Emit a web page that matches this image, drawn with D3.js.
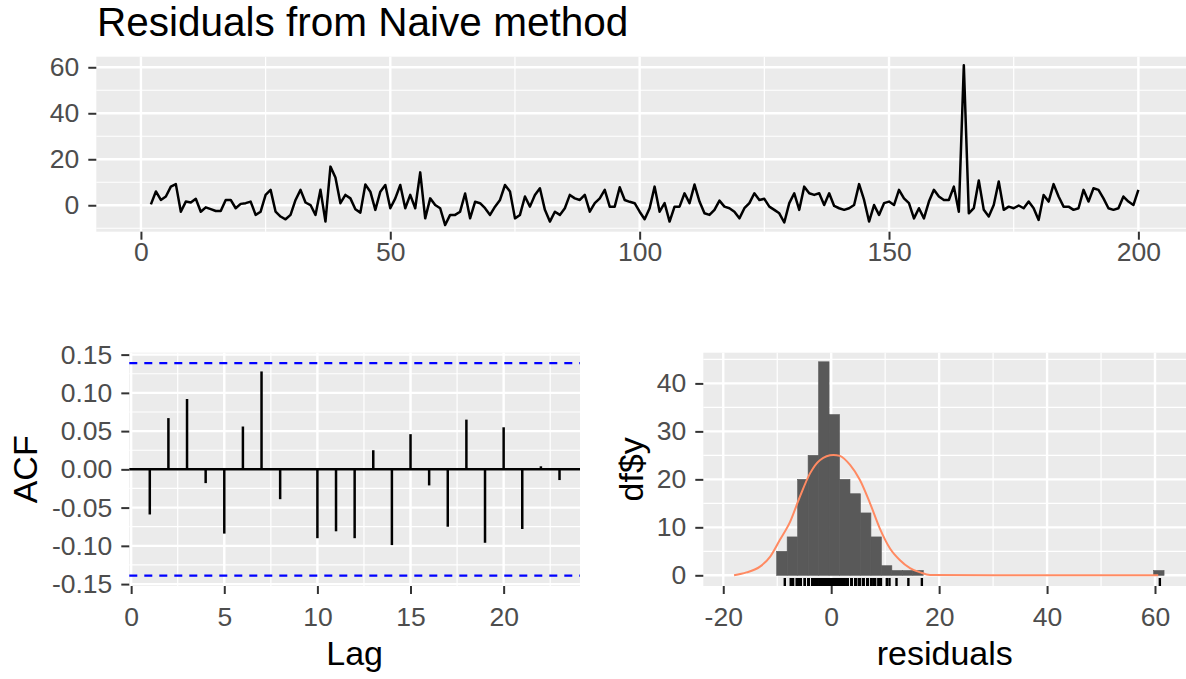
<!DOCTYPE html>
<meta charset="utf-8">

<style>
body { margin: 0; background: #fff; }
text { font-family: "Liberation Sans", Arial, sans-serif; }
</style>

<body>

<script src="https://d3js.org/d3.v7.min.js"></script>

<script>

// residuals from the naive method, t = 2..200 (t = 1 is NA)
var resStart = 2;
var residuals = [
  0.4, 6, 2.3, 3.8, 8.1, 9.2, -2.8, 1.6, 1.2, 2.8, -2.8, -0.9, -1.7, -2.5, -2.5, 2.3, 2.3, -1.3, 0.6, 0.9,
  1.6, -4.2, -2.8, 4.5, 6.7, -2.8, -4.9, -6.1, -4.2, 2.3, 6.7, 1.2, 0.1, -4.2, 6.7, -7.1, 16.8, 12.1, 0.9, 4.5,
  3, -1.7, -3.2, 9.0, 5.9, -2, 5.9, 8.8, -1.3,
  3, 8.8, -1.3, 4.5, -1.3, 14.3, -5.7, 3, 0.1, -1.3, -8.6, -4.2, -4.2, -2.8, 5.1, -5.7, 1.5, 0.9, -1.3, -4.2,
  -0.6, 2.3, 8.8, 6, -5.7, -4.2, 3.8, -0.6, 4.5, 7.4, -2, -7.1, -2.8, -4.2, -1.3, 4.5, 3, 2.3, 4.5, -2.8,
  0.9, 3, 6.7, -0.6, -0.6, 7.8, 2.3, 1.5, 0.9, -2.8,
  -6.1, -1.3, 8.1, -2.8, 0.9, -7.1, -0.6, -0.6, 5.2, 0.9, 9.0, 1.6, -3.5, -4.2, -2, 2, -0.6, -1.3, -2.8, -5.7,
  -1.3, 0.9, 5.2, 2.3, 2.8, -0.6, -2, -3.5, -7.5, 0.9, 5.2, -2, 8.1, 5.2, 4.5, 5.2, 0.1, 5.2, -0.3, -1.3,
  -2, -1.3, 0.1, 9.2, 2.3, -7.1, 0.1, -4.2, 0.9, 1.6,
  0.1, 6.7, 3, 0.9, -5.7, -1.3, -5.7, 1.6, 6.7, 3.8, 2.3, 2.3, 8.1, -2.8, 60.9, -3.5, -1.3, 10.8, -2, -4.9,
  0.1, 10.3, -2, -0.6, -1.3, -0.1, -1.3, 1.6, -1.3, -6.4, 4.5, 1.6, 9.2, 3.8, -0.6, -0.6, -2, -1.3, 6.7, 1.6,
  7.4, 6.7, 3, -1.3, -2, -1.3, 3.8, 1.6, 0.1, 6.7
];

// ACF by lag
var acfLags = d3.range(1, 24);
var acfValues = [-0.059, 0.067, 0.092, -0.018, -0.084, 0.056, 0.128, -0.039, 0.001, -0.090,
  -0.081, -0.090, 0.025, -0.099, 0.046, -0.021, -0.075, 0.065, -0.096, 0.055, -0.078, 0.004, -0.014];
var ciLimit = 0.1389;

// histogram of residuals
var binWidth = 1.94;
var binLower = [-10.1, -8.16, -6.22, -4.28, -2.34, -0.4, 1.54, 3.48, 5.42, 7.36, 9.3, 11.24, 13.18, 15.12, 59.74];
var binCounts = [5, 8, 20, 25, 44.5, 33.5, 20, 17, 13, 8, 2, 1, 1, 1, 1];

// fitted normal curve
var curveX = [-18, -15.7, -13.2, -11.3, -9.5, -7.6, -5.8, -3.9, -2.1, 0.4, 1.6, 3.5, 5.3, 7.2, 9.0, 10.9, 12.7, 14.6, 16.5, 18.3, 30, 45, 60.6];
var curveY = [0, 0.6, 1.8, 3.9, 7.4, 11.2, 16.4, 21.3, 24, 25.1, 24.9, 23, 19.9, 15, 9.8, 5.6, 3.2, 1.5, 0.6, 0.07, 0, 0, 0];

// tick labels
var tsXTicks = [0, 50, 100, 150, 200];
var tsYTicks = [0, 20, 40, 60];
var acfXTicks = [0, 5, 10, 15, 20];
var acfYTicks = [-0.15, -0.10, -0.05, 0, 0.05, 0.10, 0.15];
var histXTicks = [-20, 0, 20, 40, 60];
var histYTicks = [0, 10, 20, 30, 40];

var tickFont = 26.5, axisTitleFont = 34;

var svg = d3.select("body")
  .append("svg")
    .attr("width", 1186)
    .attr("height", 679);

// panel boxes
var tsBox = {left: 96.3, right: 1188, top: 56.7, bottom: 231.7};
var acfBox = {left: 129.3, right: 580, top: 352.7, bottom: 586};
var histBox = {left: 703.3, right: 1186.3, top: 352.7, bottom: 586};

var tsX = d3.scaleLinear().domain([-8.95, 209.95]).range([tsBox.left, tsBox.right]);
var tsY = d3.scaleLinear().domain([-11.5, 64.6]).range([tsBox.bottom, tsBox.top]);
var acfX = d3.scaleLinear().domain([-0.1, 24.1]).range([acfBox.left, acfBox.right]);
var acfY = d3.scaleLinear().domain([-0.1525, 0.1525]).range([acfBox.bottom, acfBox.top]);
var histX = d3.scaleLinear().domain([-23.7, 65.8]).range([histBox.left, histBox.right]);
var histY = d3.scaleLinear().domain([-2.23, 46.4]).range([histBox.bottom, histBox.top]);

// minor breaks halfway between majors, kept inside the domain
function minors(ticks, scale) {
  var step = ticks[1] - ticks[0], d = scale.domain(), out = [];
  for (var v = ticks[0] - step / 2; v <= ticks[ticks.length - 1] + step / 2 + 1e-9; v += step) {
    if (v >= d[0] && v <= d[1]) out.push(v);
  }
  return out;
}

function panel(box, x, y, xt, yt) {
  var g = svg.append("g");
  g.append("rect")
      .attr("x", box.left).attr("y", box.top)
      .attr("width", box.right - box.left).attr("height", box.bottom - box.top)
      .attr("fill", "#ebebeb");
  g.selectAll(".ymin").data(minors(yt, y)).enter().append("line")
      .attr("x1", box.left).attr("x2", box.right)
      .attr("y1", d => y(d)).attr("y2", d => y(d))
      .attr("stroke", "#fff").attr("stroke-width", 1.2);
  g.selectAll(".xmin").data(minors(xt, x)).enter().append("line")
      .attr("y1", box.top).attr("y2", box.bottom)
      .attr("x1", d => x(d)).attr("x2", d => x(d))
      .attr("stroke", "#fff").attr("stroke-width", 1.2);
  g.selectAll(".ymaj").data(yt).enter().append("line")
      .attr("x1", box.left).attr("x2", box.right)
      .attr("y1", d => y(d)).attr("y2", d => y(d))
      .attr("stroke", "#fff").attr("stroke-width", 2.4);
  g.selectAll(".xmaj").data(xt).enter().append("line")
      .attr("y1", box.top).attr("y2", box.bottom)
      .attr("x1", d => x(d)).attr("x2", d => x(d))
      .attr("stroke", "#fff").attr("stroke-width", 2.4);
}

function styleAxis(g) {
  g.select(".domain").remove();
  g.selectAll(".tick line").attr("stroke", "#333").attr("stroke-width", 2);
  g.selectAll(".tick text").attr("fill", "#4d4d4d").style("font-size", tickFont + "px");
}

function axes(box, x, y, xt, yt, fmtX, fmtY, padX) {
  svg.append("g")
      .attr("transform", "translate(0," + box.bottom + ")")
      .call(d3.axisBottom(x).tickValues(xt).tickFormat(fmtX).tickSize(8).tickPadding(padX))
      .call(styleAxis);
  svg.append("g")
      .attr("transform", "translate(" + box.left + ",0)")
      .call(d3.axisLeft(y).tickValues(yt).tickFormat(fmtY).tickSize(8).tickPadding(9))
      .call(styleAxis);
}

var plain = d => String(d);

// ---- top: residual time series
panel(tsBox, tsX, tsY, tsXTicks, tsYTicks);
svg.append("path")
    .datum(residuals)
    .attr("fill", "none")
    .attr("stroke", "#000")
    .attr("stroke-width", 2.5)
    .attr("stroke-linejoin", "round")
    .attr("d", d3.line().x((d, i) => tsX(resStart + i)).y(d => tsY(d)));
axes(tsBox, tsX, tsY, tsXTicks, tsYTicks, plain, plain, 2);

svg.append("text")
    .attr("x", 97).attr("y", 36)
    .style("font-size", "40.5px")
    .text("Residuals from Naive method");

// ---- bottom left: ACF
panel(acfBox, acfX, acfY, acfXTicks, acfYTicks);
svg.selectAll(".ci").data([ciLimit, -ciLimit]).enter().append("line")
    .attr("x1", acfBox.left).attr("x2", acfBox.right)
    .attr("y1", d => acfY(d)).attr("y2", d => acfY(d))
    .attr("stroke", "#0000ff").attr("stroke-width", 2.2)
    .attr("stroke-dasharray", "8,7");
svg.append("line")
    .attr("x1", acfBox.left).attr("x2", acfBox.right)
    .attr("y1", acfY(0)).attr("y2", acfY(0))
    .attr("stroke", "#000").attr("stroke-width", 2.5);
svg.selectAll(".acf").data(acfValues).enter().append("line")
    .attr("x1", (d, i) => acfX(acfLags[i])).attr("x2", (d, i) => acfX(acfLags[i]))
    .attr("y1", acfY(0)).attr("y2", d => acfY(d))
    .attr("stroke", "#000").attr("stroke-width", 2.5);
axes(acfBox, acfX, acfY, acfXTicks, acfYTicks, plain, d => d.toFixed(2), 13);

svg.append("text")
    .attr("x", (acfBox.left + acfBox.right) / 2).attr("y", 665)
    .attr("text-anchor", "middle")
    .style("font-size", axisTitleFont + "px")
    .text("Lag");
svg.append("text")
    .attr("transform", "translate(36.5," + (acfBox.top + acfBox.bottom) / 2 + ") rotate(-90)")
    .attr("text-anchor", "middle")
    .style("font-size", axisTitleFont + "px")
    .text("ACF");

// ---- bottom right: histogram
panel(histBox, histX, histY, histXTicks, histYTicks);
svg.selectAll(".bar").data(binCounts).enter().append("rect")
    .attr("x", (d, i) => histX(binLower[i]))
    .attr("width", (d, i) => histX(binLower[i] + binWidth) - histX(binLower[i]))
    .attr("y", d => histY(d))
    .attr("height", d => histY(0) - histY(d))
    .attr("fill", "#595959")
    .attr("stroke", "#595959")
    .attr("stroke-width", 0.6);
svg.selectAll(".rug").data(residuals).enter().append("line")
    .attr("x1", d => histX(d)).attr("x2", d => histX(d))
    .attr("y1", histBox.bottom - 8).attr("y2", histBox.bottom)
    .attr("stroke", "#000").attr("stroke-width", 2.4);
svg.append("path")
    .datum(curveX)
    .attr("fill", "none")
    .attr("stroke", "#ff8a62")
    .attr("stroke-width", 2)
    .attr("d", d3.line().curve(d3.curveMonotoneX).x(d => histX(d)).y((d, i) => histY(curveY[i])));
axes(histBox, histX, histY, histXTicks, histYTicks, plain, plain, 13);

svg.append("text")
    .attr("x", (histBox.left + histBox.right) / 2).attr("y", 665)
    .attr("text-anchor", "middle")
    .style("font-size", axisTitleFont + "px")
    .text("residuals");
svg.append("text")
    .attr("transform", "translate(643," + (histBox.top + histBox.bottom) / 2 + ") rotate(-90)")
    .attr("text-anchor", "middle")
    .style("font-size", axisTitleFont + "px")
    .text("df$y");

</script>
</body>
</html>
